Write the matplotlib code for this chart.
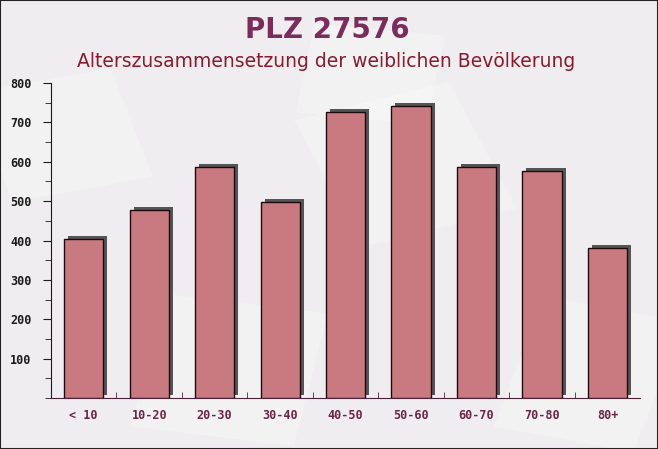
import numpy as np
import matplotlib
matplotlib.use('Agg')
import matplotlib.pyplot as plt
from matplotlib.transforms import offset_copy
from matplotlib.ticker import MultipleLocator

# Daten
kategorien = ['< 10', '10-20', '20-30', '30-40', '40-50', '50-60', '60-70', '70-80', '80+']
werte = [404, 477, 586, 497, 727, 742, 586, 576, 381]

titel = 'PLZ 27576'
untertitel = 'Alterszusammensetzung der weiblichen Bevölkerung'

fig = plt.figure(figsize=(6.58, 4.49), dpi=100, facecolor='#efedef')
ax = fig.add_axes([0.0775, 0.1136, 0.8955, 0.7014])
ax.set_facecolor('none')

# dekorativer Hintergrund (blasse Flächen)
for (x0, y0, w, h, ang) in [(0.02, 0.55, 0.22, 0.25, 15), (0.20, 0.05, 0.25, 0.3, -10),
                            (0.55, 0.45, 0.25, 0.3, 20), (0.75, 0.05, 0.22, 0.3, -15),
                            (0.45, 0.75, 0.2, 0.2, -8)]:
    r = plt.Rectangle((x0, y0), w, h, angle=ang, transform=fig.transFigure,
                      facecolor='white', alpha=0.3, edgecolor='none', zorder=-10)
    fig.patches.append(r)

x = np.arange(len(kategorien))
schatten = offset_copy(ax.transData, fig=fig, x=4, y=3, units='dots')
ax.bar(x, werte, width=0.6, color='#555555', transform=schatten, zorder=2)
ax.bar(x, werte, width=0.6, color='#c97a80', edgecolor='#1e0a0e', linewidth=1.0, zorder=3)

ax.set_xlim(-0.5, len(kategorien) - 0.5)
ax.set_ylim(0, 800)

ax.spines[['top', 'right']].set_visible(False)
ax.spines['left'].set_color('#1a1a1a')
ax.spines['bottom'].set_color('#4a2238')

ax.yaxis.set_major_locator(MultipleLocator(100))
ax.yaxis.set_minor_locator(MultipleLocator(50))
ax.set_yticks(np.arange(100, 801, 100))
ax.tick_params(axis='y', which='major', length=6, color='#1a1a1a', labelsize=8.5,
               labelcolor='#1a1a1a', pad=8)
ax.tick_params(axis='y', which='minor', length=4, color='#1a1a1a')
ax.set_xticks(x)
ax.set_xticklabels(kategorien)
ax.set_xticks(np.arange(0.5, len(kategorien) - 0.5, 1), minor=True)
ax.tick_params(axis='x', which='major', length=0, labelsize=8.5, labelcolor='#6a2448', pad=8)
ax.tick_params(axis='x', which='minor', length=4, direction='in', color='#4a2238')
for t in ax.get_xticklabels() + ax.get_yticklabels():
    t.set_fontfamily('DejaVu Sans Mono')
    t.set_fontweight('bold')

fig.text(0.497, 0.933, titel, ha='center', va='center', fontsize=20, fontweight='bold',
         color='#7a2d5c')
fig.text(0.496, 0.862, untertitel, ha='center', va='center', fontsize=13.5, color='#8a1a2e')

fig.patches.append(plt.Rectangle((0, 0), 1, 1, transform=fig.transFigure, fill=False,
                                 edgecolor='#222222', linewidth=1.5))

fig.savefig('out.png', dpi=100, facecolor=fig.get_facecolor())
